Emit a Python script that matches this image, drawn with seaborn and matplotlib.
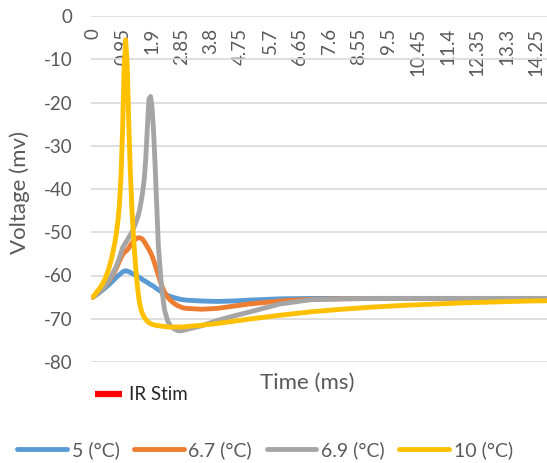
import numpy as np
import pandas as pd
import matplotlib
matplotlib.use("Agg")
import matplotlib.pyplot as plt
from matplotlib.lines import Line2D
import seaborn as sns

# ---------------- data ----------------
time_ms = [0, 0.1, 0.2, 0.3, 0.4, 0.5, 0.6, 0.7, 0.75, 0.8, 0.85, 0.9, 0.95,
           1.0, 1.05, 1.1, 1.15, 1.2, 1.25, 1.3, 1.35, 1.4, 1.45, 1.5, 1.55,
           1.6, 1.65, 1.7, 1.75, 1.8, 1.85, 1.9, 1.95, 2.0, 2.1, 2.2, 2.3,
           2.4, 2.5, 2.6, 2.7, 2.8, 2.9, 3.0, 3.5, 4.0, 4.5, 5.0, 6.0, 7.0,
           8.0, 9.0, 10.0, 11.0, 12.0, 13.0, 14.0, 15.0]

v_5C = [-65, -64.5, -64, -63.4, -62.8, -62.2, -61.5, -60.8, -60.4, -60.1,
        -59.8, -59.5, -59.2, -59.0, -58.9, -59.0, -59.1, -59.3, -59.5, -59.7,
        -59.9, -60.1, -60.3, -60.5, -60.7, -61.0, -61.2, -61.4, -61.6, -61.9,
        -62.1, -62.3, -62.5, -62.8, -63.3, -63.8, -64.2, -64.6, -64.9, -65.1,
        -65.3, -65.5, -65.6, -65.7, -65.9, -66.0, -65.9, -65.7, -65.4, -65.3,
        -65.3, -65.3, -65.3, -65.3, -65.3, -65.3, -65.3, -65.3]

v_6_7C = [-65, -64.4, -63.8, -63.1, -62.3, -61.4, -60.3, -59.0, -58.3, -57.5,
          -56.7, -55.9, -55.2, -54.7, -54.4, -54.1, -53.6, -53.0, -52.5, -52.0,
          -51.7, -51.4, -51.3, -51.3, -51.4, -51.7, -52.2, -52.8, -53.4, -54.0,
          -54.7, -55.5, -56.5, -57.6, -59.9, -62.2, -63.9, -65.0, -65.8, -66.4,
          -66.9, -67.2, -67.5, -67.6, -67.8, -67.6, -67.1, -66.6, -65.9, -65.5,
          -65.4, -65.3, -65.3, -65.3, -65.3, -65.3, -65.3, -65.3]

v_6_9C = [-65, -64.4, -63.8, -63.1, -62.2, -61.2, -60.0, -58.6, -57.8, -56.9,
          -55.9, -54.8, -53.6, -53.0, -52.4, -51.8, -51.2, -50.6, -50.0, -49.2,
          -48.3, -47.3, -46.2, -44.8, -42.8, -40.5, -37.5, -32.5, -25.5, -19.2,
          -18.6, -21.5, -27.0, -35.0, -53.0, -62.5, -68.0, -70.5, -71.7, -72.3,
          -72.7, -72.8, -72.7, -72.5, -71.6, -70.4, -69.4, -68.5, -66.6, -65.6,
          -65.4, -65.3, -65.3, -65.3, -65.3, -65.3, -65.3, -65.3]

v_10C = [-65, -64.0, -63.1, -62.0, -60.6, -58.6, -56.0, -52.5, -50.2, -47.5,
         -43.5, -37.0, -26.5, -12.0, -5.5, -11.5, -25.0, -36.0, -44.5, -51.0,
         -56.0, -60.5, -64.0, -66.5, -68.0, -69.0, -69.7, -70.2, -70.6, -70.9,
         -71.1, -71.3, -71.4, -71.5, -71.6, -71.7, -71.8, -71.9, -71.9, -71.9,
         -71.9, -71.9, -71.9, -71.8, -71.5, -71.1, -70.6, -70.1, -69.2, -68.4,
         -67.8, -67.3, -66.9, -66.6, -66.3, -66.1, -65.9, -65.8]

series_names = ["5 (°C)", "6.7 (°C)", "6.9 (°C)", "10 (°C)"]
series_colors = ["#5B9BD5", "#ED7D31", "#A5A5A5", "#FFC000"]
x_tick_values = [round(i * 0.95, 2) for i in range(16)]
x_tick_labels = [f"{v:g}" for v in x_tick_values]
y_ticks = [0, -10, -20, -30, -40, -50, -60, -70, -80]
stim_label = "IR Stim"

# ---------------- figure ----------------
sns.set_theme(style="white")
plt.rcParams["font.family"] = ["Lato", "DejaVu Sans"]

W, H = 547, 463
fig = plt.figure(figsize=(W / 100, H / 100), dpi=100)
left_px, right_px, top_px, bot_px = 91, 547, 16, 362
ax = fig.add_axes([left_px / W, 1 - bot_px / H,
                   (right_px - left_px) / W, (bot_px - top_px) / H])

df = pd.DataFrame({"t": time_ms, series_names[0]: v_5C, series_names[1]: v_6_7C,
                   series_names[2]: v_6_9C, series_names[3]: v_10C})
long = df.melt(id_vars="t", var_name="series", value_name="v")
sns.lineplot(data=long, x="t", y="v", hue="series", hue_order=series_names,
             palette=series_colors, estimator=None, sort=False, lw=3.5,
             legend=False, ax=ax)
for ln in ax.get_lines():
    ln.set_solid_joinstyle("round")
    ln.set_solid_capstyle("round")

ax.set_xlim(-0.065, 14.6)
ax.set_ylim(-80, 0)
ax.set_yticks(y_ticks)
ax.set_yticklabels([f"{v}" for v in y_ticks])
ax.set_xticks(x_tick_values)
ax.set_xticklabels(x_tick_labels)

for s in ax.spines.values():
    s.set_visible(False)
ax.spines["bottom"].set_position(("data", 0))
ax.yaxis.grid(True, color="#D9D9D9", lw=1.2)
ax.xaxis.grid(False)
ax.set_axisbelow(True)

ax.tick_params(axis="x", length=0, pad=8.5, labelsize=13.5,
               labelcolor="#595959", labelrotation=90)
ax.tick_params(axis="y", length=0, pad=13.5, labelsize=13.5,
               labelcolor="#595959")
for lab in ax.get_xticklabels():
    lab.set_verticalalignment("top")
    lab.set_horizontalalignment("center")

ax.set_xlabel("Time (ms)", fontsize=16, color="#595959")
ax.set_ylabel("Voltage (mv)", fontsize=16, color="#595959")
ax.xaxis.set_label_coords((307 - left_px) / (right_px - left_px),
                          (bot_px - 383) / (bot_px - top_px))
ax.xaxis.label.set_verticalalignment("center")
ax.yaxis.set_label_coords((20 - left_px) / (right_px - left_px), 0.49)
ax.yaxis.label.set_verticalalignment("center")

# main legend
handles = [Line2D([0], [0], color=c, lw=3.5, solid_capstyle="round")
           for c in series_colors]
leg = fig.legend(handles, series_names, loc="center",
                 bbox_to_anchor=(265 / W, 1 - 450 / H), ncol=4, frameon=False,
                 fontsize=14, handlelength=2.55, handletextpad=0.25,
                 columnspacing=0.75, borderpad=0, borderaxespad=0)
for t in leg.get_texts():
    t.set_color("#595959")

# IR Stim legend entry
stim_handle = [Line2D([0], [0], color="#FF0000", lw=4.5, solid_capstyle="butt")]
leg2 = fig.legend(stim_handle, [stim_label], loc="center left",
                  bbox_to_anchor=(95 / W, 1 - 395 / H), frameon=False,
                  fontsize=13.5, handlelength=1.45, handletextpad=0.35,
                  borderpad=0, borderaxespad=0)
for t in leg2.get_texts():
    t.set_color("#262626")

fig.savefig("out.png", dpi=100)
